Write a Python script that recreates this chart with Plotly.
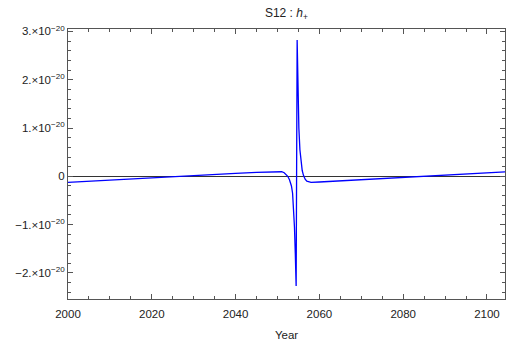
import plotly.graph_objects as go

# Year values and h+ strain (units of 1e-20)
years = [2000, 2005, 2010, 2015, 2020, 2025, 2030, 2035, 2040, 2045, 2048, 2050,
         2051, 2051.6, 2052.0, 2052.45, 2052.86, 2053.33, 2053.6, 2053.85, 2054.05,
         2054.25, 2054.45, 2054.69, 2054.9, 2055.1, 2055.35, 2055.6, 2055.9,
         2056.2, 2056.6, 2057.0, 2057.6, 2058.0, 2060, 2065, 2070, 2075, 2080,
         2085, 2090, 2095, 2100, 2104.5]
h_plus = [-0.125, -0.1, -0.075, -0.05, -0.025, 0.0, 0.02, 0.04, 0.06, 0.08, 0.095, 0.1,
          0.095, 0.075, 0.045, 0.0, -0.07, -0.2, -0.35, -0.65, -1.05,
          -1.6, -2.27, 2.82, 1.7, 1.0, 0.55, 0.3, 0.12,
          0.02, -0.06, -0.1, -0.12, -0.125, -0.118, -0.095, -0.07, -0.045, -0.018,
          0.008, 0.033, 0.055, 0.075, 0.095]
scale = 1e-20

y_tickvals = [-2, -1, 0, 1, 2, 3]
y_ticktext = ["\u22122.\u00d710<sup>\u221220</sup>", "\u22121.\u00d710<sup>\u221220</sup>", "0",
              "1.\u00d710<sup>\u221220</sup>", "2.\u00d710<sup>\u221220</sup>", "3.\u00d710<sup>\u221220</sup>"]
x_tickvals = [2000, 2020, 2040, 2060, 2080, 2100]

frame = "#555555"
font = dict(family="Liberation Sans, Arial, sans-serif", size=11.5, color="#222222")

fig = go.Figure()
fig.add_trace(go.Scatter(x=years, y=[v * scale for v in h_plus], mode="lines",
                         line=dict(color="#0000ff", width=1.3), showlegend=False))

fig.update_layout(
    width=506, height=347,
    margin=dict(l=68, r=1, t=29, b=48),
    paper_bgcolor="white", plot_bgcolor="white",
    font=font,
    title=dict(text="S12 : <i>h</i><sub>+</sub>", x=0.566, xanchor="center",
               y=1 - 13 / 347, yanchor="middle", font=dict(size=12, color="#222222")),
    xaxis=dict(range=[2000, 2104.3], tickvals=x_tickvals,
               ticks="inside", ticklen=5, tickcolor=frame, tickwidth=1,
               showline=True, linecolor=frame, linewidth=1, mirror="ticks",
               showgrid=False, zeroline=False,
               minor=dict(dtick=5, tick0=2000, ticks="inside", ticklen=3,
                          tickcolor=frame, showgrid=False),
               ticklabelstandoff=4,
               title=dict(text="Year", standoff=12, font=dict(size=11.5)),
               tickfont=font),
    yaxis=dict(range=[-2.54e-20, 3.05e-20], tickvals=[v * scale for v in y_tickvals],
               ticktext=y_ticktext,
               ticks="inside", ticklen=5, tickcolor=frame, tickwidth=1,
               showline=True, linecolor=frame, linewidth=1, mirror="ticks",
               showgrid=False, zeroline=True, zerolinecolor="#333333", zerolinewidth=1,
               minor=dict(dtick=0.2e-20, tick0=0, ticks="inside", ticklen=3,
                          tickcolor=frame, showgrid=False),
               tickfont=font),
)

fig.write_html("out.html")
